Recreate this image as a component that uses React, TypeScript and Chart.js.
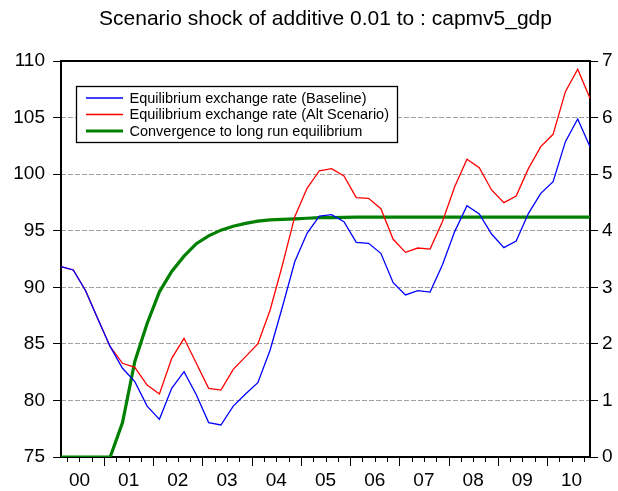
import React, { useEffect, useRef } from 'react';
import { Chart, registerables } from 'chart.js';
Chart.register(...registerables);

const quarters = [
  '2000Q1','2000Q2','2000Q3','2000Q4','2001Q1','2001Q2','2001Q3','2001Q4',
  '2002Q1','2002Q2','2002Q3','2002Q4','2003Q1','2003Q2','2003Q3','2003Q4',
  '2004Q1','2004Q2','2004Q3','2004Q4','2005Q1','2005Q2','2005Q3','2005Q4',
  '2006Q1','2006Q2','2006Q3','2006Q4','2007Q1','2007Q2','2007Q3','2007Q4',
  '2008Q1','2008Q2','2008Q3','2008Q4','2009Q1','2009Q2','2009Q3','2009Q4',
  '2010Q1','2010Q2','2010Q3','2010Q4'
];
const yearLabels = ['00','01','02','03','04','05','06','07','08','09','10'];

const baseline = [
  91.82, 91.53, 89.7, 87.2, 84.75, 82.84, 81.66, 79.5, 78.33, 81.07, 82.54,
  80.5, 78.04, 77.83, 79.5, 80.57, 81.57, 84.46, 88.28, 92.26, 94.77, 96.3,
  96.42, 95.8, 93.97, 93.89, 93.0, 90.41, 89.32, 89.7, 89.58, 91.97, 94.92,
  97.21, 96.48, 94.71, 93.5, 94.09, 96.54, 98.3, 99.33, 102.87, 104.87, 102.43
];
const altScenario = [
  91.82, 91.53, 89.7, 87.2, 84.75, 83.28, 82.93, 81.36, 80.57, 83.72, 85.49,
  83.28, 81.07, 80.92, 82.75, 83.87, 84.99, 87.99, 91.97, 96.24, 98.75, 100.3,
  100.48, 99.84, 97.92, 97.86, 96.95, 94.24, 93.09, 93.47, 93.38, 95.8, 98.89,
  101.31, 100.57, 98.6, 97.48, 98.07, 100.51, 102.43, 103.52, 107.29, 109.27, 106.7
];
const convergence = [
  0, 0, 0, 0, 0, 0.61, 1.69, 2.36, 2.92, 3.28, 3.55, 3.77, 3.91, 4.01, 4.08,
  4.13, 4.17, 4.19, 4.2, 4.21, 4.22, 4.23, 4.23, 4.235, 4.24, 4.24, 4.24, 4.24,
  4.24, 4.24, 4.24, 4.24, 4.24, 4.24, 4.24, 4.24, 4.24, 4.24, 4.24, 4.24, 4.24,
  4.24, 4.24, 4.24
];

const seriesNames = [
  'Equilibrium exchange rate (Baseline)',
  'Equilibrium exchange rate (Alt Scenario)',
  'Convergence to long run equilibrium'
];
const titleText = 'Scenario shock of additive 0.01 to : capmv5_gdp';

const FONT = "'Liberation Sans', Arial, sans-serif";

const framePlugin = {
  id: 'frame',
  beforeDatasetsDraw(chart: any) {
    const { ctx, chartArea: a } = chart;
    ctx.save();
    ctx.strokeStyle = '#000';
    ctx.lineWidth = 2;
    ctx.strokeRect(a.left, a.top, a.right - a.left, a.bottom - a.top);
    const xs = chart.scales.x;
    ctx.lineWidth = 1;
    for (let i = 1; i < quarters.length; i++) {
      const x = Math.round(xs.getPixelForValue(i - 0.5)) + 0.5;
      const len = i % 4 === 0 ? 8 : 4;
      ctx.beginPath();
      ctx.moveTo(x, a.bottom + 1);
      ctx.lineTo(x, a.bottom + 1 + len);
      ctx.stroke();
    }
    ctx.restore();
  }
};

const overlayPlugin = {
  id: 'overlay',
  afterDraw(chart: any) {
    const { ctx, chartArea: a } = chart;
    ctx.save();
    ctx.fillStyle = '#000';
    ctx.font = `21px ${FONT}`;
    ctx.textAlign = 'center';
    ctx.textBaseline = 'middle';
    ctx.fillText(titleText, (a.left + a.right) / 2, 19);
    const bx = 76.5, by = 86.5, bw = 321, bh = 56;
    ctx.fillStyle = '#fff';
    ctx.fillRect(bx, by, bw, bh);
    ctx.strokeStyle = '#000';
    ctx.lineWidth = 1.3;
    ctx.strokeRect(bx, by, bw, bh);
    const rows = [98, 114.5, 131];
    ctx.font = `14.5px ${FONT}`;
    ctx.textAlign = 'left';
    chart.data.datasets.forEach((ds: any, i: number) => {
      ctx.strokeStyle = ds.borderColor;
      ctx.lineWidth = ds.borderWidth;
      ctx.beginPath();
      ctx.moveTo(86, rows[i]);
      ctx.lineTo(123, rows[i]);
      ctx.stroke();
      ctx.fillStyle = '#000';
      ctx.fillText(ds.label, 129.5, rows[i] + 0.5);
    });
    ctx.restore();
  }
};

export default function App() {
  const ref = useRef<HTMLCanvasElement>(null);
  useEffect(() => {
    if (!ref.current) return;
    const chart = new Chart(ref.current, {
      type: 'line',
      data: {
        labels: quarters,
        datasets: [
          { label: seriesNames[0], data: baseline, borderColor: '#0000ff', borderWidth: 1.3, pointRadius: 0, yAxisID: 'y', tension: 0 },
          { label: seriesNames[1], data: altScenario, borderColor: '#ff0000', borderWidth: 1.3, pointRadius: 0, yAxisID: 'y', tension: 0 },
          { label: seriesNames[2], data: convergence, borderColor: '#008000', borderWidth: 3.2, pointRadius: 0, yAxisID: 'y2', tension: 0 }
        ]
      },
      options: {
        responsive: false,
        animation: false,
        events: [],
        layout: { padding: { top: 61, left: 0, right: 0, bottom: 0 } },
        plugins: { legend: { display: false }, title: { display: false }, tooltip: { enabled: false } },
        scales: {
          x: {
            type: 'category',
            offset: false,
            grid: { display: false, drawTicks: false },
            border: { display: false },
            ticks: {
              autoSkip: false,
              maxRotation: 0,
              minRotation: 0,
              labelOffset: 6.15,
              padding: 12,
              color: '#000',
              font: { family: FONT, size: 19 },
              callback: (_v: any, idx: number) => (idx % 4 === 1 ? yearLabels[Math.floor(idx / 4)] : '')
            },
            afterFit: (s: any) => { s.height = 34; }
          },
          y: {
            position: 'left',
            min: 75,
            max: 110,
            ticks: { stepSize: 5, padding: 8, color: '#000', font: { family: FONT, size: 19 } },
            grid: { color: '#a0a0a0', lineWidth: 1, tickLength: 8, tickColor: '#000', tickBorderDash: [], tickWidth: 1 },
            border: { display: false, dash: [5, 2] },
            afterFit: (s: any) => { s.width = 61; }
          },
          y2: {
            position: 'right',
            min: 0,
            max: 7,
            ticks: { stepSize: 1, padding: 4, color: '#000', font: { family: FONT, size: 19 } },
            grid: { drawOnChartArea: false, tickLength: 8, tickColor: '#000', tickWidth: 1 },
            border: { display: false },
            afterFit: (s: any) => { s.width = 28; }
          }
        }
      },
      plugins: [framePlugin, overlayPlugin]
    } as any);
    return () => chart.destroy();
  }, []);
  return (
    <div style={{ position: 'fixed', left: 0, top: 0, width: 618, height: 491, background: '#fff' }}>
      <canvas ref={ref} width={618} height={491} style={{ display: 'block' }} />
    </div>
  );
}
